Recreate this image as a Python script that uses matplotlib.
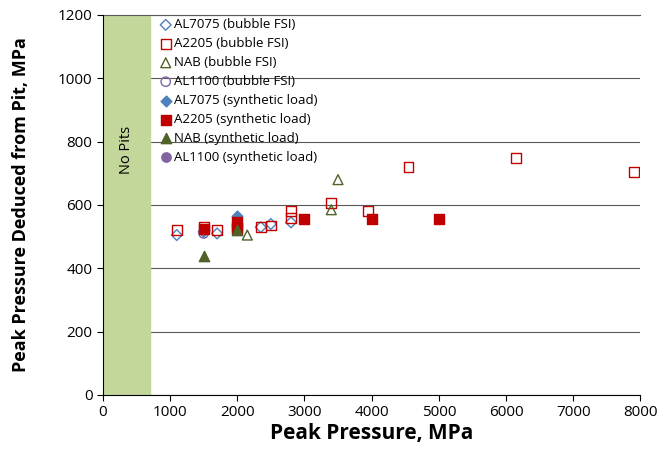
import numpy as np
import matplotlib.pyplot as plt

# bubble FSI (open markers)
al7075_fsi_x = [1100, 1500, 1700, 2350, 2500, 2800]
al7075_fsi_y = [505, 515, 510, 530, 540, 545]
a2205_fsi_x = [1100, 1500, 1700, 2000, 2350, 2500, 2800, 2800, 3400, 3950, 4550, 6150, 7900]
a2205_fsi_y = [520, 530, 520, 525, 530, 535, 580, 560, 605, 580, 720, 748, 703]
nab_fsi_x = [2150, 3400, 3500]
nab_fsi_y = [505, 585, 680]
al1100_fsi_x = [1500]
al1100_fsi_y = [510]

# synthetic load (filled markers)
al7075_syn_x = [1500, 2000]
al7075_syn_y = [520, 565]
a2205_syn_x = [1500, 2000, 2000, 3000, 4000, 5000]
a2205_syn_y = [525, 545, 530, 555, 555, 555]
nab_syn_x = [1500, 2000]
nab_syn_y = [440, 520]
al1100_syn_x = [2000]
al1100_syn_y = [540]

no_pit_limit = 700

plt.rcParams['font.family'] = ['Open Sans', 'DejaVu Sans']

fig = plt.figure(figsize=(6.72, 4.68), dpi=100)
ax = fig.add_axes([0.153, 0.156, 0.80, 0.812])

ax.axvspan(0, no_pit_limit, color='#c4d79b', zorder=1)
ax.text(no_pit_limit / 2, 775, 'No Pits', rotation=90, ha='center', va='center', fontsize=10.5, zorder=2)

blue = '#4f81bd'
red = '#c00000'
green = '#4f6228'
purple = '#8064a2'

ax.scatter(al7075_fsi_x, al7075_fsi_y, marker='D', s=30, facecolors='none', edgecolors=blue, linewidths=1, label='AL7075 (bubble FSI)', zorder=3)
ax.scatter(a2205_fsi_x, a2205_fsi_y, marker='s', s=50, facecolors='none', edgecolors=red, linewidths=1, label='A2205 (bubble FSI)', zorder=3)
ax.scatter(nab_fsi_x, nab_fsi_y, marker='^', s=50, facecolors='none', edgecolors=green, linewidths=1, label='NAB (bubble FSI)', zorder=3)
ax.scatter(al1100_fsi_x, al1100_fsi_y, marker='o', s=45, facecolors='none', edgecolors=purple, linewidths=1, label='AL1100 (bubble FSI)', zorder=2.5)
ax.scatter(al7075_syn_x, al7075_syn_y, marker='D', s=30, color=blue, label='AL7075 (synthetic load)', zorder=3)
ax.scatter(a2205_syn_x, a2205_syn_y, marker='s', s=55, color=red, label='A2205 (synthetic load)', zorder=3)
ax.scatter(nab_syn_x, nab_syn_y, marker='^', s=55, color=green, label='NAB (synthetic load)', zorder=3)
ax.scatter(al1100_syn_x, al1100_syn_y, marker='o', s=45, color=purple, label='AL1100 (synthetic load)', zorder=2.5)

ax.set_xlim(0, 8000)
ax.set_ylim(0, 1200)
ax.set_xticks(np.arange(0, 8001, 1000))
ax.set_yticks(np.arange(0, 1201, 200))
ax.yaxis.grid(True, color='#595959', linewidth=0.8, zorder=0)
ax.set_axisbelow(True)
ax.axhline(1200, color='#595959', linewidth=0.8, clip_on=False, zorder=2)
for side in ['top', 'right']:
    ax.spines[side].set_visible(False)
ax.spines['left'].set_color('black')
ax.spines['bottom'].set_color('black')
ax.tick_params(labelsize=11, length=4)

ax.set_xlabel('Peak Pressure, MPa', fontsize=15, fontweight='bold', labelpad=2)
ax.set_ylabel('Peak Pressure Deduced from Pit, MPa', fontsize=13, fontweight='bold', labelpad=20)

ax.legend(loc='upper left', bbox_to_anchor=(0.09, 1.012), frameon=False, fontsize=9.5,
          handletextpad=0.1, labelspacing=0.45, borderaxespad=0.2, handlelength=1.0, scatterpoints=1)

fig.savefig('out.png', dpi=100)
